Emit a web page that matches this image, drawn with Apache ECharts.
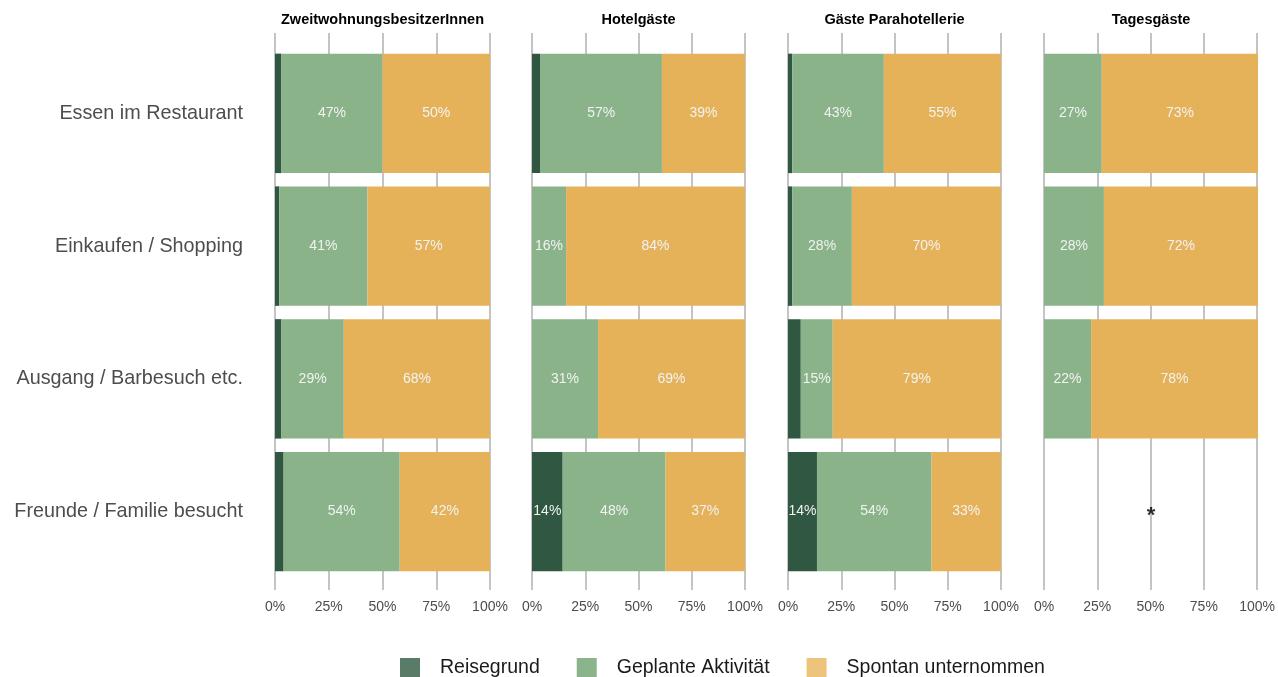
<!DOCTYPE html>
<html>
<head>
<meta charset="utf-8">
<script src="https://cdn.jsdelivr.net/npm/echarts@6/dist/echarts.min.js"></script>
<style>
html,body{margin:0;padding:0;background:#fff;}
#chart{width:1278px;height:677px;}
</style>
</head>
<body>
<div id="chart"></div>
<script>
const categories = ['Essen im Restaurant', 'Einkaufen / Shopping', 'Ausgang / Barbesuch etc.', 'Freunde / Familie besucht'];
const groups = ['ZweitwohnungsbesitzerInnen', 'Hotelgäste', 'Gäste Parahotellerie', 'Tagesgäste'];
const seriesNames = ['Reisegrund', 'Geplante Aktivität', 'Spontan unternommen'];
// values per group, in category order
const reisegrund = [[3, 2, 3, 4], [4, 0, 0, 14.4], [2, 2, 6, 13.6], [0, 0, 0, null]];
const geplant = [[47, 41, 29, 54], [57, 16, 31, 48.3], [43, 28, 15, 53.8], [27, 28, 22, null]];
const spontan = [[50, 57, 68, 42], [39, 84, 69, 37.3], [55, 70, 79, 32.6], [73, 72, 78, null]];
// marker for missing data (group index, category, x position)
const missingMarks = [[3, 'Freunde / Familie besucht', 50]];
const xTicks = [0, 25, 50, 75, 100];

const colors = ['#2f5741', '#8ab38a', '#e5b25a'];
const legendColors = ['#5a7b67', '#8cb48c', '#eec47c'];
const font = 'Liberation Sans, Arial, sans-serif';

const panelLeft = [275, 532, 788, 1044];
const panelWidth = [215, 213, 213, 214];

const grids = [], xAxes = [], yAxes = [], series = [], titles = [];
const values = [reisegrund, geplant, spontan];

groups.forEach((g, i) => {
  // grid for gridlines + x labels (taller)
  grids.push({left: panelLeft[i], width: panelWidth[i], top: 33, height: 557});
  // grid for bars
  grids.push({left: panelLeft[i], width: panelWidth[i], top: 47, height: 531});
  const gl = i * 2, gb = i * 2 + 1;
  xAxes.push({
    gridIndex: gl, type: 'value', min: 0, max: 100, interval: 25,
    axisLine: {show: false}, axisTick: {show: false},
    axisLabel: {formatter: '{value}%', color: '#4d4d4d', fontSize: 14, fontFamily: font, margin: 10},
    splitLine: {show: true, lineStyle: {color: '#c4c4c4', width: 2}}
  });
  yAxes.push({gridIndex: gl, type: 'value', min: 0, max: 1, show: false});
  xAxes.push({gridIndex: gb, type: 'value', min: 0, max: 100, show: false});
  yAxes.push({
    gridIndex: gb, type: 'category', data: categories, inverse: true,
    axisLine: {show: false}, axisTick: {show: false}, splitLine: {show: false},
    axisLabel: {show: i === 0, color: '#4d4d4d', fontSize: 19.8, fontFamily: font, margin: 32}
  });
  series.push({type: 'scatter', xAxisIndex: gl, yAxisIndex: gl, data: [], silent: true});
  values.forEach((arr, k) => {
    series.push({
      name: seriesNames[k], type: 'bar', stack: 'p' + i,
      xAxisIndex: gb, yAxisIndex: gb,
      barCategoryGap: '10%',
      itemStyle: {color: colors[k]},
      label: {
        show: true, position: 'inside', color: '#f2f2f2', fontSize: 14, fontFamily: font,
        formatter: p => (p.value != null && p.value >= 10) ? Math.round(p.value) + '%' : ''
      },
      emphasis: {disabled: true},
      data: arr[i]
    });
  });
  const marks = missingMarks.filter(m => m[0] === i);
  if (marks.length) {
    series.push({
      type: 'scatter', xAxisIndex: gb, yAxisIndex: gb, symbolSize: 0,
      data: marks.map(m => [m[2], m[1]]),
      label: {show: true, position: 'inside', formatter: '*', color: '#000', fontSize: 22, fontWeight: 'bold', fontFamily: font, offset: [0, 4]}
    });
  }
  titles.push({
    text: g, left: panelLeft[i] + panelWidth[i] / 2, top: 12, textAlign: 'center', padding: 0,
    textStyle: {fontSize: 14.5, fontWeight: 'bold', color: '#000', fontFamily: font}
  });
});

const chart = echarts.init(document.getElementById('chart'));
chart.setOption({
  animation: false,
  backgroundColor: '#fff',
  title: titles,
  grid: grids,
  xAxis: xAxes,
  yAxis: yAxes,
  legend: {
    top: 653, left: 395,
    itemWidth: 20, itemHeight: 20, itemGap: 37,
    icon: 'rect',
    textStyle: {fontSize: 19.5, color: '#1a1a1a', fontFamily: font, padding: [0, 0, 0, 15]},
    data: seriesNames.map((n, k) => ({name: n, itemStyle: {color: legendColors[k]}}))
  },
  series: series
});
</script>
</body>
</html>
